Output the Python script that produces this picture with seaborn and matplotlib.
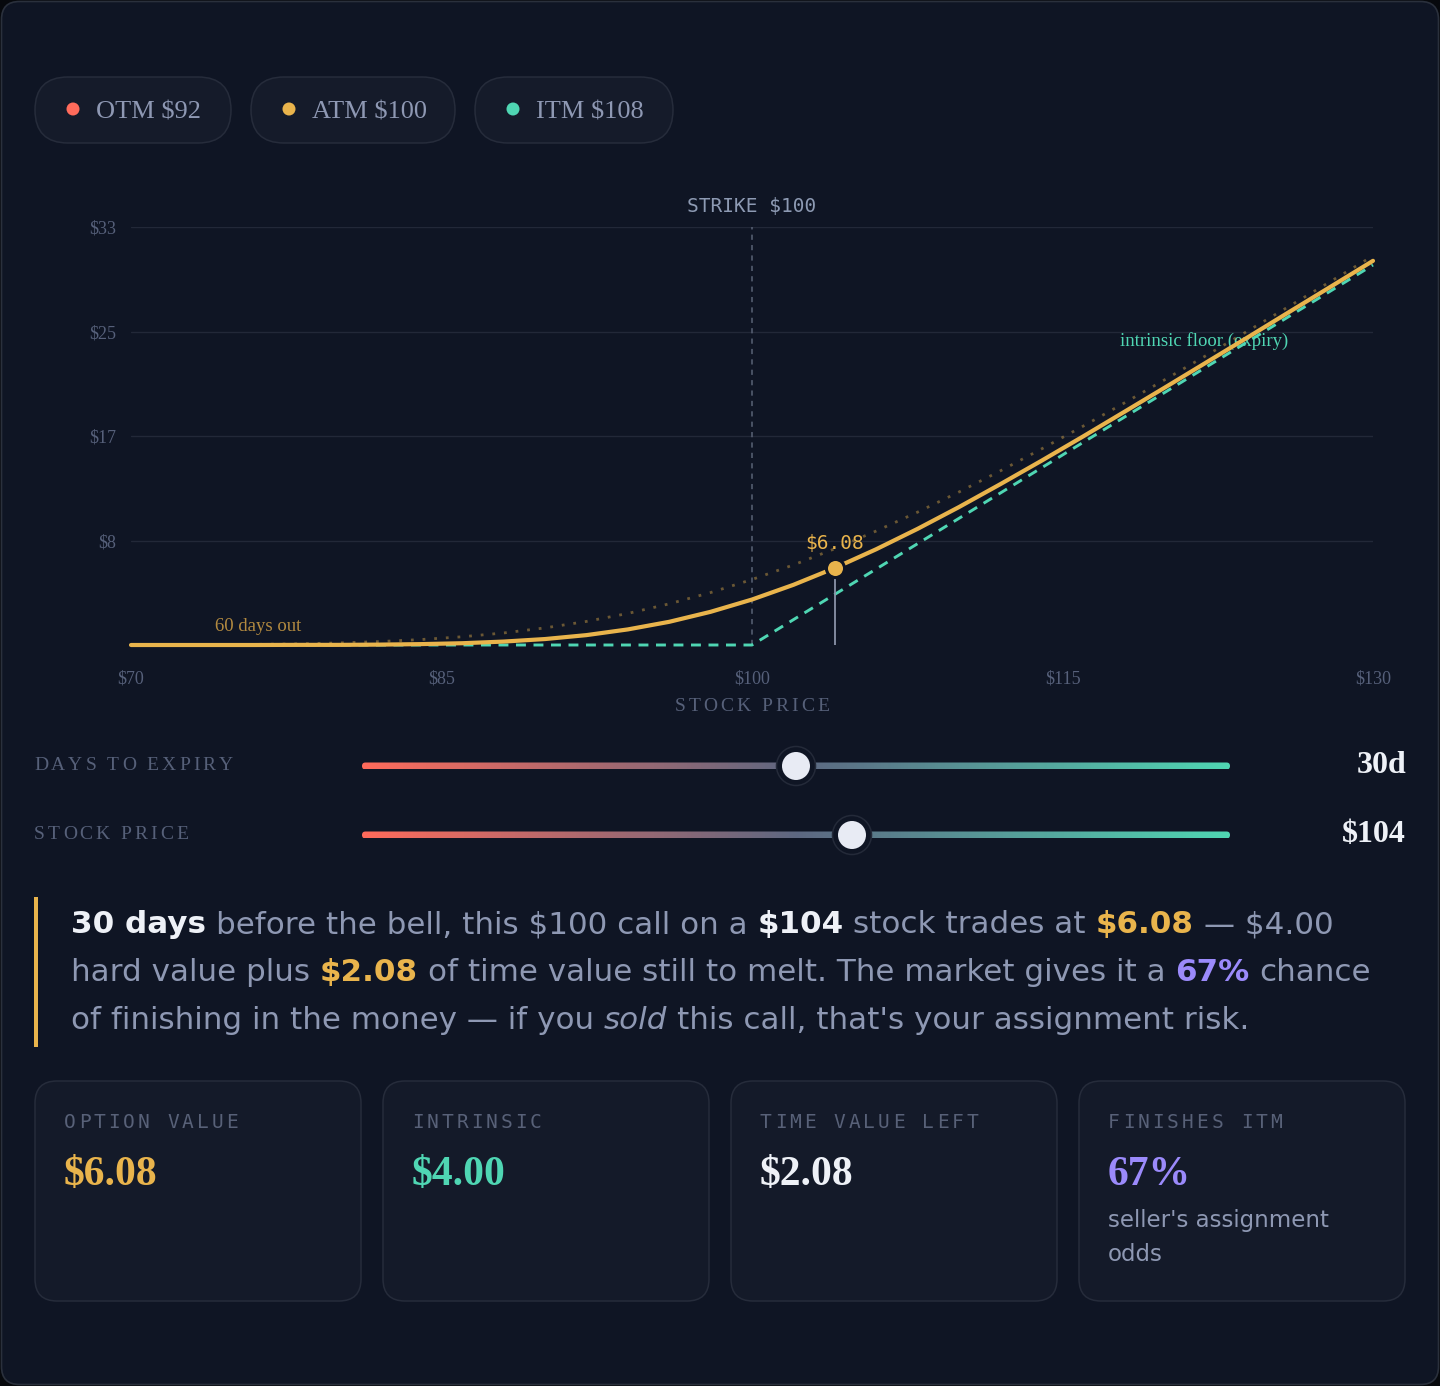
import matplotlib
matplotlib.use('Agg')
import seaborn as sns
import matplotlib.pyplot as plt
from matplotlib.patches import FancyBboxPatch, Circle, Rectangle
from matplotlib.colors import LinearSegmentedColormap

# --- data ---
stock = [70, 72, 74, 76, 78, 80, 82, 84, 86, 88, 90, 92, 94, 96, 98, 100,
         102, 104, 106, 108, 110, 112, 114, 116, 118, 120, 122, 124, 126, 128, 130]
value_30d = [0.00, 0.00, 0.00, 0.00, 0.01, 0.01, 0.03, 0.07, 0.14, 0.27, 0.47, 0.78, 1.23, 1.83, 2.62, 3.59,
             4.75, 6.08, 7.56, 9.17, 10.89, 12.70, 14.56, 16.47, 18.42, 20.38, 22.36, 24.34, 26.34, 28.33, 30.33]
value_60d = [0.01, 0.01, 0.03, 0.05, 0.09, 0.16, 0.27, 0.43, 0.65, 0.95, 1.35, 1.86, 2.49, 3.25, 4.14, 5.17,
             6.32, 7.60, 9.00, 10.49, 12.08, 13.75, 15.49, 17.28, 19.12, 21.00, 22.91, 24.84, 26.79, 28.75, 30.72]
intrinsic = [0, 0, 0, 0, 0, 0, 0, 0, 0, 0, 0, 0, 0, 0, 0, 0,
             2, 4, 6, 8, 10, 12, 14, 16, 18, 20, 22, 24, 26, 28, 30]

x_ticks = [70, 85, 100, 115, 130]
x_labels = ['$70', '$85', '$100', '$115', '$130']
y_ticks = [8.25, 16.5, 24.75, 33]
y_labels = ['$8', '$17', '$25', '$33']

strike = 100
spot = 104
option_value = 6.08
days_left = 30

pill_labels = ['OTM $92', 'ATM $100', 'ITM $108']
card_labels = ['OPTION VALUE', 'INTRINSIC', 'TIME VALUE LEFT', 'FINISHES ITM']
card_values = ['$6.08', '$4.00', '$2.08', '67%']

# --- colours / fonts ---
BG = '#0f1524'
CARD = '#141a29'
EDGE = '#262c3b'
GOLD = '#e9b44c'
TEAL = '#4fd6b3'
RED = '#ff6b5b'
PURPLE = '#9b8afb'
WHITE = '#eef1f7'
TEXT = '#8e98b3'
DIM = '#566079'
SERIF = 'Liberation Serif'
SANS = 'DejaVu Sans'
MONO = 'DejaVu Sans Mono'

sns.set_theme(style='dark')
plt.rcParams['text.parse_math'] = False
plt.rcParams['font.family'] = [SANS]

fig = plt.figure(figsize=(14.4, 13.86), dpi=100, facecolor='#07090d')

# full-figure axes in pixel coordinates for the "card" furniture
bg = fig.add_axes([0, 0, 1, 1], zorder=0)
bg.set_xlim(0, 1440)
bg.set_ylim(1386, 0)
bg.axis('off')

bg.add_patch(FancyBboxPatch((1.5, 1.5), 1437, 1383, boxstyle='round,pad=0,rounding_size=18',
                            fc=BG, ec='#2a303c', lw=1.2))

renderer = fig.canvas.get_renderer()


def width_px(s, **kw):
    t = bg.text(0, 0, '|' + s + '|', **kw)
    w = t.get_window_extent(renderer).width
    t.remove()
    t = bg.text(0, 0, '||', **kw)
    w -= t.get_window_extent(renderer).width
    t.remove()
    return w


def spaced(x, y, s, spacing, ha='left', **kw):
    advs = [width_px(c, **kw) for c in s]
    total = sum(advs) + spacing * (len(s) - 1)
    if ha == 'center':
        x -= total / 2
    elif ha == 'right':
        x -= total
    for c, a in zip(s, advs):
        if c != ' ':
            bg.text(x, y, c, ha='left', va='baseline', **kw)
        x += a + spacing


def rich(x, y, parts, size):
    for s, color, weight, style in parts:
        kw = dict(fontsize=size, family=SANS, color=color, fontweight=weight, fontstyle=style)
        body = s.lstrip(' ')
        if len(body) < len(s):
            x += width_px(s[:len(s) - len(body)], **kw)
        bg.text(x, y, body, ha='left', va='baseline', **kw)
        x += width_px(body, **kw)


# --- legend pills ---
pill_x = [35, 251, 475]
pill_w = [196, 204, 198]
pill_colors = [RED, GOLD, TEAL]
for px, pw, lab, col in zip(pill_x, pill_w, pill_labels, pill_colors):
    bg.add_patch(FancyBboxPatch((px, 77), pw, 66, boxstyle='round,pad=0,rounding_size=33',
                                fc='#151b2a', ec=EDGE, lw=1.1))
    bg.add_patch(Circle((px + 38, 109), 6.5, fc=col, ec='none'))
    bg.text(px + 61, 118, lab, fontsize=19, family=SERIF, color=TEXT, va='baseline')

# --- main chart ---
ax = fig.add_axes([131 / 1440, 1 - 645 / 1386, 1242 / 1440, 418 / 1386], zorder=2)
ax.set_facecolor('none')

sns.lineplot(x=stock, y=intrinsic, ax=ax, color=TEAL, lw=2.1, linestyle=(0, (3.4, 2.6)), clip_on=False, zorder=3)
sns.lineplot(x=stock, y=value_60d, ax=ax, color=GOLD, alpha=0.42, lw=2.0, linestyle=(0, (1, 3.2)), zorder=4)
sns.lineplot(x=stock, y=value_30d, ax=ax, color=GOLD, lw=3.0, clip_on=False, zorder=5)

ax.axvline(strike, color='#596276', lw=1.1, linestyle=(0, (3.4, 3.4)), zorder=2)
ax.plot([spot, spot], [0, option_value], color='#8a93a8', lw=1.3, zorder=6)
sns.scatterplot(x=[spot], y=[option_value], ax=ax, color=GOLD, s=170, edgecolor=BG, linewidth=2.2, zorder=7)
ax.annotate(f'${option_value:.2f}', (spot, option_value), xytext=(0, 13.7), textcoords='offset points',
            ha='center', va='baseline', fontsize=14, family=MONO, color=GOLD, zorder=8)

ax.text(74.06, 1.1, '60 days out', fontsize=13.5, family=SERIF, color='#b38a40', va='baseline', zorder=1)
ax.text(117.8, 23.6, 'intrinsic floor (expiry)', fontsize=13.5, family=SERIF, color=TEAL,
        va='baseline', zorder=1)

ax.set_xlim(70, 130)
ax.set_ylim(0, 33)
ax.set_xticks(x_ticks)
ax.set_xticklabels(x_labels, fontsize=13, family=SERIF, color='#56607a')
ax.set_yticks(y_ticks)
ax.set_yticklabels(y_labels, fontsize=13, family=SERIF, color='#56607a')
ax.tick_params(axis='both', length=0)
ax.tick_params(axis='x', pad=18)
ax.tick_params(axis='y', pad=11)
ax.grid(axis='y', color='#222838', lw=1)
ax.grid(axis='x', visible=False)
ax.set_xlabel('')
ax.set_ylabel('')
for sp in ax.spines.values():
    sp.set_visible(False)

bg.text(752, 212, f'STRIKE ${strike}', fontsize=14, family=MONO, color='#8d9ab3', ha='center', va='baseline')
spaced(752, 711, 'STOCK PRICE', 3, ha='center', fontsize=14, family=SERIF, color=DIM)

# --- sliders ---
track_cmap = LinearSegmentedColormap.from_list('track', [RED, '#5d6781', TEAL])
sliders = [('DAYS TO EXPIRY', 766, 796, f'{days_left}d'), ('STOCK PRICE', 835, 852, f'${spot}')]
for label, ty, knob_x, val in sliders:
    spaced(34, ty + 4, label, 3, fontsize=14, family=SERIF, color=DIM)
    im = bg.imshow([[i / 255 for i in range(256)]], cmap=track_cmap, aspect='auto',
                   extent=(362, 1230, ty + 3.5, ty - 3.5), zorder=2)
    clip = FancyBboxPatch((362, ty - 3.5), 868, 7, boxstyle='round,pad=0,rounding_size=3.5',
                          transform=bg.transData)
    im.set_clip_path(clip)
    bg.add_patch(Circle((knob_x, ty), 19.5, fc=BG, ec='#242a39', lw=1.1, zorder=3))
    bg.add_patch(Circle((knob_x, ty), 14, fc='#e8ebf4', ec='none', zorder=4))
    bg.text(1406, ty + 7, val, fontsize=23, family=SERIF, fontweight='bold', color=WHITE,
            ha='right', va='baseline')

bg.set_aspect('auto')
bg.set_xlim(0, 1440)
bg.set_ylim(1386, 0)

# --- narrative paragraph ---
bg.add_patch(Rectangle((34, 897), 4, 150, fc=GOLD, ec='none'))
para = [
    [('30 days', WHITE, 'bold', 'normal'), (' before the bell, this $100 call on a ', TEXT, 'normal', 'normal'),
     ('$104', WHITE, 'bold', 'normal'), (' stock trades at ', TEXT, 'normal', 'normal'),
     ('$6.08', GOLD, 'bold', 'normal'), (' \u2014 $4.00', TEXT, 'normal', 'normal')],
    [('hard value plus ', TEXT, 'normal', 'normal'), ('$2.08', GOLD, 'bold', 'normal'),
     (' of time value still to melt. The market gives it a ', TEXT, 'normal', 'normal'),
     ('67%', PURPLE, 'bold', 'normal'), (' chance', TEXT, 'normal', 'normal')],
    [('of finishing in the money \u2014 if you ', TEXT, 'normal', 'normal'), ('sold', TEXT, 'normal', 'italic'),
     (" this call, that's your assignment risk.", TEXT, 'normal', 'normal')],
]
for i, line in enumerate(para):
    rich(71, 933 + 48 * i, line, 22.3)

# --- stat cards ---
card_colors = [GOLD, TEAL, WHITE, PURPLE]
for i, (lab, val, col) in enumerate(zip(card_labels, card_values, card_colors)):
    cx = 35 + 348 * i
    bg.add_patch(FancyBboxPatch((cx, 1081), 326, 220, boxstyle='round,pad=0,rounding_size=22',
                                fc=CARD, ec=EDGE, lw=1.1))
    spaced(cx + 29, 1128, lab, 3, fontsize=14, family=MONO, color='#586178')
    bg.text(cx + 29, 1185, val, fontsize=30, family=SERIF, fontweight='bold', color=col, va='baseline')
bg.text(1108, 1227, "seller's assignment", fontsize=16.5, family=SANS, color=TEXT, va='baseline')
bg.text(1108, 1261, 'odds', fontsize=16.5, family=SANS, color=TEXT, va='baseline')

fig.savefig('out.png', dpi=100, facecolor=fig.get_facecolor())
